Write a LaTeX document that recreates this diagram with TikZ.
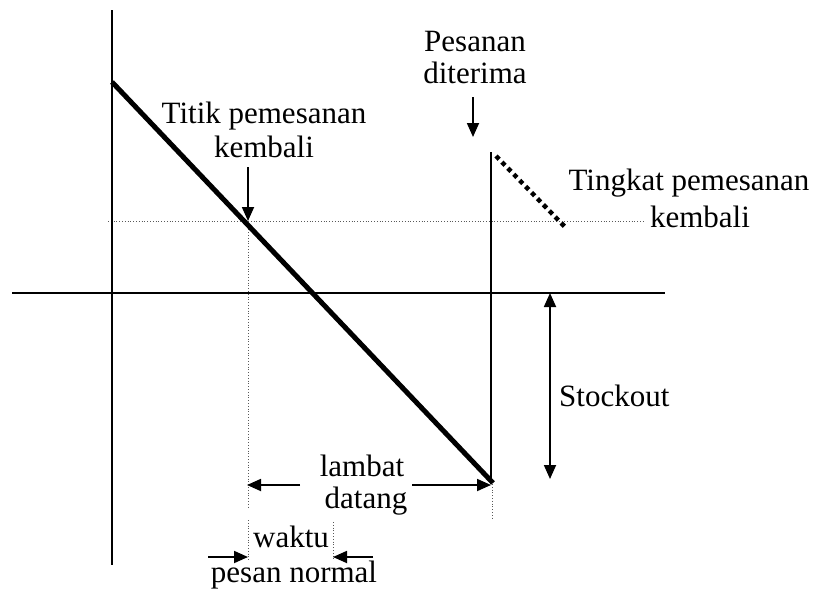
\documentclass[tikz,border=0pt]{standalone}
\usepackage{fontspec}
\setmainfont{Liberation Serif}
\usetikzlibrary{arrows.meta}
\begin{document}
\begin{tikzpicture}[x=1pt,y=-1pt,
  lbl/.style={font=\fontsize{31}{35}\selectfont, inner sep=0pt, anchor=base},
  axisline/.style={line width=2pt},
  stockline/.style={line width=5pt},
  riseline/.style={line width=2pt},
  orderline/.style={line width=4.5pt, dash pattern=on 4.5pt off 4pt},
  guide/.style={line width=0.8pt, dotted, black!65},
  arr/.style={line width=1.8pt, -{Triangle[length=14pt,width=12pt]}},
  dblarr/.style={line width=1.8pt, {Triangle[length=14pt,width=12pt]}-{Triangle[length=14pt,width=12pt]}}
]
\useasboundingbox (0,0) rectangle (820,590);
% coordinates
\coordinate (vtop) at (112,10);
\coordinate (vbot) at (112,565);
\coordinate (hleft) at (12,293);
\coordinate (hright) at (665,293);
\coordinate (A) at (112,82);
\coordinate (B) at (493,483);
\coordinate (Rtop) at (491,152);
\coordinate (Rbot) at (491,484);
\coordinate (D1) at (496,156);
\coordinate (D2) at (567,229);
\coordinate (gL) at (108,221);
\coordinate (gR) at (645,221);
\coordinate (rop) at (248,221);
\coordinate (g1b) at (248,508);
\coordinate (g2t) at (248,520);
\coordinate (g2b) at (248,560);
\coordinate (g3t) at (333,522);
\coordinate (g3b) at (333,560);
\coordinate (g4t) at (492,484);
\coordinate (g4b) at (492,518);
\coordinate (tA) at (248,167);
\coordinate (pA) at (473,97);
\coordinate (pB) at (473,137);
\coordinate (sT) at (550,293);
\coordinate (sB) at (550,479);
\coordinate (lA) at (300,485);
\coordinate (lB) at (247,485);
\coordinate (lC) at (412,485);
\coordinate (lD) at (491,485);
\coordinate (wA) at (208,557);
\coordinate (wB) at (248,557);
\coordinate (wC) at (373,557);
\coordinate (wD) at (333,557);

% guides
\draw[guide] (gL) -- (gR);
\draw[guide] (rop) -- (g1b);
\draw[guide] (g2t) -- (g2b);
\draw[guide] (g3t) -- (g3b);
\draw[guide] (g4t) -- (g4b);

% axes
\draw[axisline] (vtop) -- (vbot);
\draw[axisline] (hleft) -- (hright);

% inventory
\draw[stockline] (A) -- (B);
\draw[riseline] (Rbot) -- (Rtop);
\draw[orderline] (D1) -- (D2);

% labels
\node[lbl] (titik1) at (264,123) {Titik pemesanan};
\node[lbl] (titik2) at (264,157) {kembali};
\node[lbl] (pes1) at (475,51) {Pesanan};
\node[lbl] (pes2) at (475,83) {diterima};
\node[lbl] (ting1) at (689,190) {Tingkat pemesanan};
\node[lbl] (ting2) at (700,227) {kembali};
\node[lbl, anchor=base west] (stock) at (559,406) {Stockout};
\node[lbl] (lam1) at (362,476) {lambat};
\node[lbl] (lam2) at (366,508) {datang};
\node[lbl] (wak) at (291,547) {waktu};
\node[lbl] (pn) at (294,582) {pesan normal};

% arrows
\draw[arr] (tA) -- (rop);
\draw[arr] (pA) -- (pB);
\draw[dblarr] (sT) -- (sB);
\draw[arr] (lA) -- (lB);
\draw[arr] (lC) -- (lD);
\draw[arr] (wA) -- (wB);
\draw[arr] (wC) -- (wD);
\end{tikzpicture}
\end{document}
